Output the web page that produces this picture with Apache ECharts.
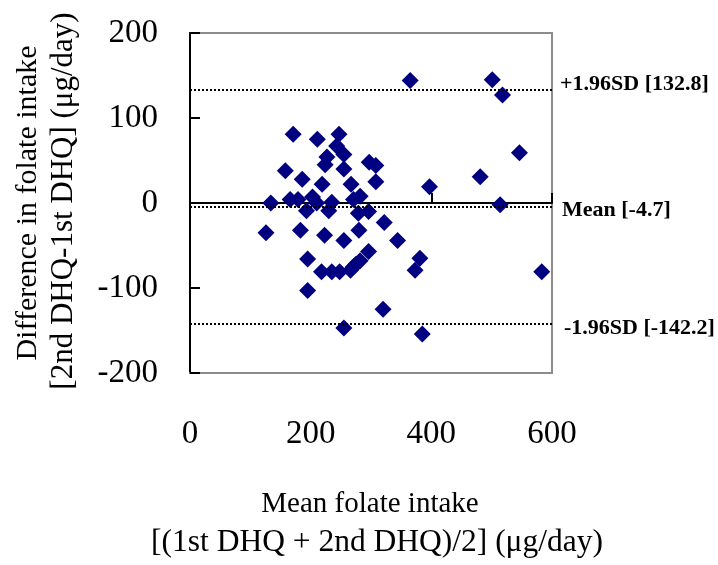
<!DOCTYPE html>
<html>
<head>
<meta charset="utf-8">
<script src="https://cdn.jsdelivr.net/npm/echarts@6/dist/echarts.min.js"></script>
<style>
html,body{margin:0;padding:0;background:#fff;}
#chart{width:718px;height:565px;}
</style>
</head>
<body>
<div id="chart"></div>
<script>
// Mean folate intake [(1st DHQ + 2nd DHQ)/2] (µg/day)
const meanIntake = [365, 501, 518, 546, 481, 397, 514, 171, 211, 247, 243, 255, 227, 224, 255, 158, 186, 219, 297, 308,
  308, 267, 282, 134, 166, 179, 203, 210, 235, 271, 193, 230, 279, 296, 322, 126, 183, 223, 255, 280,
  344, 296, 195, 282, 275, 271, 218, 235, 248, 266, 381, 373, 583, 195, 320, 255, 385];
// Difference in folate intake [2nd DHQ - 1st DHQ] (µg/day)
const diffIntake = [144, 145, 127, 59, 31, 19, -2, 81, 75, 81, 67, 57, 54, 45, 40, 38, 28, 22, 48, 44,
  25, 22, 8, 0, 4, 4, 7, 0, 1, 4, -9, -9, -12, -10, -23, -35, -32, -38, -44, -32,
  -44, -57, -66, -68, -72, -75, -81, -81, -81, -79, -65, -79, -81, -103, -125, -147, -154];

const refValues = [132.8, -4.7, -142.2];
const refLabels = ['+1.96SD [132.8]', 'Mean [-4.7]', '-1.96SD [-142.2]'];

const xTicks = [0, 200, 400, 600];
const yTicks = [-200, -100, 0, 100, 200];

const serif = "'Liberation Serif', 'Times New Roman', serif";
const refLabelOffsets = [[0, -6], [2, 3], [4, 4]];

const chart = echarts.init(document.getElementById('chart'));
const points = meanIntake.map((m, i) => [m, diffIntake[i]]);

chart.setOption({
  animation: false,
  grid: {
    left: 190, top: 33, right: 166, bottom: 192,
    show: true, borderColor: '#8c8c8c', borderWidth: 2, backgroundColor: '#fff'
  },
  xAxis: [
    {
      type: 'value', position: 'bottom',
      min: xTicks[0], max: xTicks[xTicks.length - 1], interval: xTicks[1] - xTicks[0],
      axisLine: { show: true, onZero: false, lineStyle: { color: '#8c8c8c', width: 2 } },
      axisTick: { show: false },
      axisLabel: { show: true, margin: 45, fontFamily: serif, fontSize: 33, color: '#000', showMinLabel: true, showMaxLabel: true },
      splitLine: { show: false }
    },
    {
      type: 'value', position: 'bottom',
      min: xTicks[0], max: xTicks[xTicks.length - 1], interval: xTicks[1] - xTicks[0],
      axisLine: { show: true, onZero: true, lineStyle: { color: '#000', width: 2 } },
      axisTick: { show: true, inside: true, length: 10, lineStyle: { color: '#000', width: 2 } },
      axisLabel: { show: false },
      splitLine: { show: false }
    }
  ],
  yAxis: {
    type: 'value',
    min: yTicks[0], max: yTicks[yTicks.length - 1], interval: yTicks[1] - yTicks[0],
    axisLine: { show: true, onZero: false, lineStyle: { color: '#000', width: 2 } },
    axisTick: { show: true, inside: true, length: 10, lineStyle: { color: '#000', width: 2 } },
    axisLabel: { margin: 32, fontFamily: serif, fontSize: 33, color: '#000', showMinLabel: true, showMaxLabel: true },
    splitLine: { show: false }
  },
  series: [{
    type: 'scatter',
    xAxisIndex: 0,
    data: points,
    symbol: 'diamond',
    symbolSize: 17,
    itemStyle: { color: '#000080', opacity: 1 },
    z: 3,
    markLine: {
      silent: true,
      symbol: 'none',
      animation: false,
      lineStyle: { color: '#000', width: 2, type: [2, 2] },
      label: {
        show: true, position: 'end', distance: 8,
        fontFamily: serif, fontSize: 22, fontWeight: 'bold', color: '#000'
      },
      data: refValues.map((v, i) => ({ yAxis: v, label: { formatter: refLabels[i], offset: refLabelOffsets[i] } }))
    }
  }],
  graphic: [
    { type: 'text', x: 28, y: 203, rotation: Math.PI / 2,
      style: { text: 'Difference in folate intake', font: '30px ' + serif, fill: '#000', align: 'center', verticalAlign: 'middle' } },
    { type: 'text', x: 64, y: 201, rotation: Math.PI / 2,
      style: { text: '[2nd DHQ-1st DHQ] (\u03bcg/day)', font: '31px ' + serif, fill: '#000', align: 'center', verticalAlign: 'middle' } },
    { type: 'text', x: 370, y: 504,
      style: { text: 'Mean folate intake', font: '29px ' + serif, fill: '#000', align: 'center', verticalAlign: 'middle' } },
    { type: 'text', x: 377, y: 543,
      style: { text: '[(1st DHQ + 2nd DHQ)/2] (\u03bcg/day)', font: '31.5px ' + serif, fill: '#000', align: 'center', verticalAlign: 'middle' } }
  ]
});
</script>
</body>
</html>
